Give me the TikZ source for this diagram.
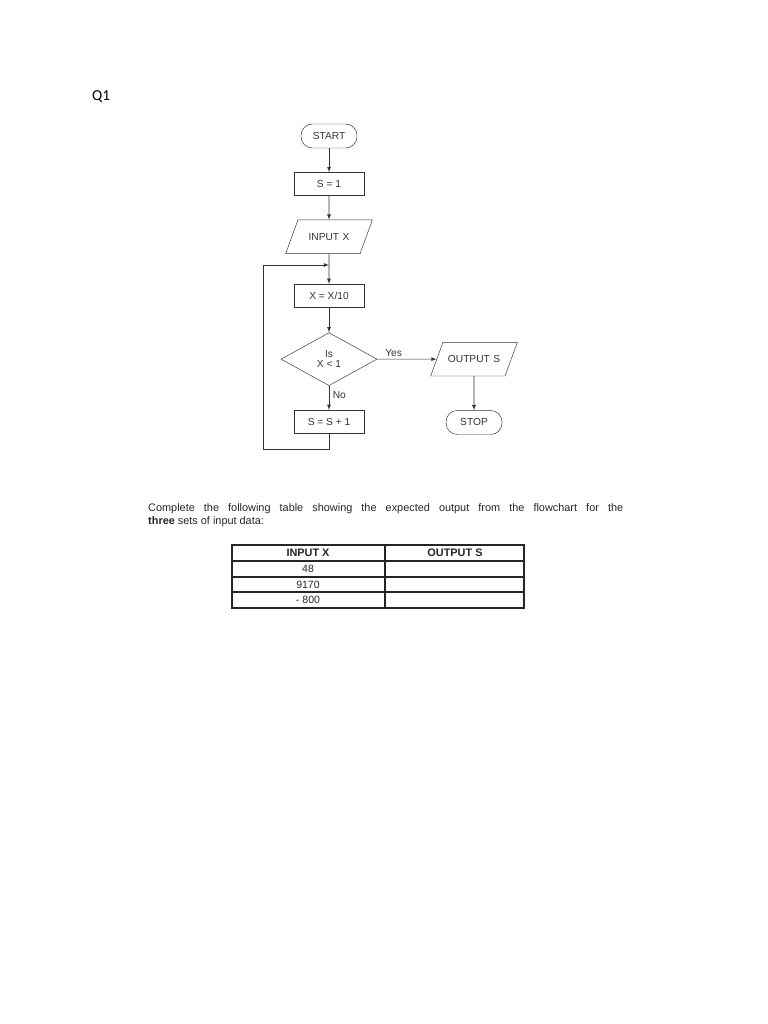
\documentclass[tikz,border=0pt]{standalone}
\usepackage{fontspec}
\setmainfont{Liberation Sans}
\newfontfamily\qfont{Carlito}
\usepackage{xcolor}
\usepackage{tikz}
\usetikzlibrary{positioning}
\usetikzlibrary{shapes.geometric}
\definecolor{inkgray}{HTML}{333333}
\tikzstyle{term} = [draw=inkgray, rectangle, rounded corners=0.34cm,
minimum width=1.68cm, minimum height=0.72cm, inner sep=0pt]
\tikzstyle{proc} = [draw=inkgray, rectangle,
minimum width=2.1cm, minimum height=0.69cm, inner sep=0pt]
\tikzstyle{io} = [draw=inkgray, trapezium, trapezium left angle=70,
trapezium right angle=110, text width=53pt, align=center,
text height=6pt, text depth=0pt, inner xsep=0pt, inner ysep=11.4pt]
\tikzstyle{decision} = [draw=inkgray, diamond, minimum width=2.88cm,
minimum height=1.59cm, inner sep=0pt, align=center]
\tikzstyle{arr} = [draw=inkgray, -latex, line width=0.55pt]
\tikzstyle{cellline} = [draw=black!85, line width=1.2pt]
\tikzstyle{cell} = [text=black!85, font=\fontsize{9}{10}\selectfont]

\begin{document}
\begin{tikzpicture}[x=0.03cm, y=-0.03cm, text=inkgray,
    font=\fontsize{8.7}{10}\selectfont]
    \useasboundingbox[fill=white] (0,0) rectangle (768,1024);

    % question number
    \node[font=\qfont\fontsize{13}{15}\selectfont, text=black] (qnum) at (101,97) {Q1};

    % flowchart
    \node[term] (start) at (329,136) {START};
    \node[proc, below=0.72cm of start] (init) {S = 1};
    \node[io, below=0.72cm of init] (inp) {INPUT X};
    \node[proc, below=0.9cm of inp] (div) {X = X/10};
    \node[decision, below=0.75cm of div] (test) {Is\\[-1pt]X < 1};
    \node[proc, below=0.72cm of test] (inc) {S = S + 1};
    \node[io, right=1.78cm of test] (outp) {OUTPUT S};
    \node[term, below=1.02cm of outp] (stop) {STOP};

    \coordinate (join) at (329,265);
    \coordinate[left=1.98cm of join] (loopleft);

    \draw[arr] (start) -- (init);
    \draw[arr] (init) -- (inp);
    \draw[arr] (inp) -- (div);
    \draw[arr] (div) -- (test);
    \draw[arr] (test) -- node[pos=0.1, anchor=south west, inner sep=1.5pt] (yes) {Yes} (outp);
    \draw[arr] (test) -- node[pos=0.4, anchor=west, inner sep=3pt] (no) {No} (inc);
    \draw[arr] (outp) -- (stop);
    \draw[arr] (inc.south) -- ++(0,16) -| (loopleft) -- (join);

    % question text
    \node[anchor=north west, text width=14.25cm, align=justify, inner sep=0pt,
        text=black!85, font=\fontsize{9.3}{11}\selectfont] (task) at (148,503)
        {Complete the following table showing the expected output from the flowchart for the\linebreak
        \textbf{three} sets of input data:};

    % table
    \draw[cellline] (232,545) rectangle (524,608);
    \draw[cellline] (232,561) -- (524,561);
    \draw[cellline] (232,577) -- (524,577);
    \draw[cellline] (232,592) -- (524,592);
    \draw[cellline] (385,545) -- (385,608);
    \node[cell, font=\bfseries\fontsize{9.3}{10}\selectfont] (hin) at (308,553) {INPUT X};
    \node[cell, font=\bfseries\fontsize{9.3}{10}\selectfont] (hout) at (455,553) {OUTPUT S};
    \node[cell] (va) at (308,569) {48};
    \node[cell] (vb) at (308,584.5) {9170};
    \node[cell] (vc) at (308,600) {- 800};
\end{tikzpicture}
\end{document}
